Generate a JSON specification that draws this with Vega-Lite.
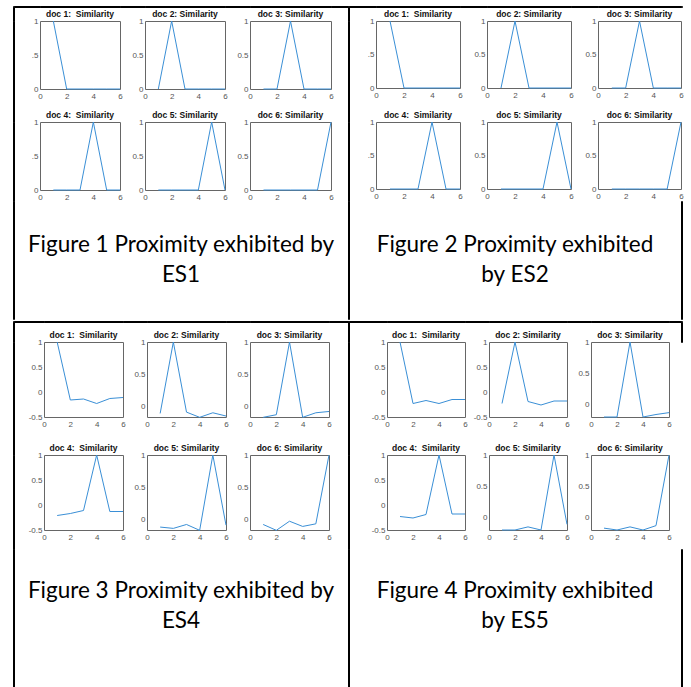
{
"$schema":"https://vega.github.io/schema/vega-lite/v6.json",
"padding":{"left":12,"top":5,"right":0,"bottom":0},
"background":"white",
"data":{"values":[{}]},
"config":{
 "view":{"stroke":null},
 "point":{"opacity":0,"size":0,"strokeWidth":0},
 "axis":{"grid":false,"domain":false,"ticks":false,"labelFontSize":8,"labelColor":"#555","labelFont":"Liberation Sans, Arial, sans-serif","labelPadding":3,"labelFlush":false,"labelOverlap":false},
 "axisY":{"labelPadding":2},
 "title":{"fontSize":8.5,"font":"Liberation Sans, Arial, sans-serif","fontWeight":"bold","offset":-1,"color":"#111","anchor":"middle"},
 "line":{"color":"#3a8fd6","strokeWidth":1,"clip":true},
 "text":{"font":"Lato","fontSize":22.5,"lineHeight":30,"lineBreak":"\n","color":"black","baseline":"middle","align":"center"}
},
"datasets":{
 "es1":[
  {"doc":1,"x":1,"y":1},{"doc":1,"x":2,"y":0},{"doc":1,"x":3,"y":0},{"doc":1,"x":4,"y":0},{"doc":1,"x":5,"y":0},{"doc":1,"x":6,"y":0},
  {"doc":2,"x":1,"y":0},{"doc":2,"x":2,"y":1},{"doc":2,"x":3,"y":0},{"doc":2,"x":4,"y":0},{"doc":2,"x":5,"y":0},{"doc":2,"x":6,"y":0},
  {"doc":3,"x":1,"y":0},{"doc":3,"x":2,"y":0},{"doc":3,"x":3,"y":1},{"doc":3,"x":4,"y":0},{"doc":3,"x":5,"y":0},{"doc":3,"x":6,"y":0},
  {"doc":4,"x":1,"y":0},{"doc":4,"x":2,"y":0},{"doc":4,"x":3,"y":0},{"doc":4,"x":4,"y":1},{"doc":4,"x":5,"y":0},{"doc":4,"x":6,"y":0},
  {"doc":5,"x":1,"y":0},{"doc":5,"x":2,"y":0},{"doc":5,"x":3,"y":0},{"doc":5,"x":4,"y":0},{"doc":5,"x":5,"y":1},{"doc":5,"x":6,"y":0},
  {"doc":6,"x":1,"y":0},{"doc":6,"x":2,"y":0},{"doc":6,"x":3,"y":0},{"doc":6,"x":4,"y":0},{"doc":6,"x":5,"y":0},{"doc":6,"x":6,"y":1}
 ],
 "es2":[
  {"doc":1,"x":1,"y":1},{"doc":1,"x":2,"y":0},{"doc":1,"x":3,"y":0},{"doc":1,"x":4,"y":0},{"doc":1,"x":5,"y":0},{"doc":1,"x":6,"y":0},
  {"doc":2,"x":1,"y":0},{"doc":2,"x":2,"y":1},{"doc":2,"x":3,"y":0},{"doc":2,"x":4,"y":0},{"doc":2,"x":5,"y":0},{"doc":2,"x":6,"y":0},
  {"doc":3,"x":1,"y":0},{"doc":3,"x":2,"y":0},{"doc":3,"x":3,"y":1},{"doc":3,"x":4,"y":0},{"doc":3,"x":5,"y":0},{"doc":3,"x":6,"y":0},
  {"doc":4,"x":1,"y":0},{"doc":4,"x":2,"y":0},{"doc":4,"x":3,"y":0},{"doc":4,"x":4,"y":1},{"doc":4,"x":5,"y":0},{"doc":4,"x":6,"y":0},
  {"doc":5,"x":1,"y":0},{"doc":5,"x":2,"y":0},{"doc":5,"x":3,"y":0},{"doc":5,"x":4,"y":0},{"doc":5,"x":5,"y":1},{"doc":5,"x":6,"y":0},
  {"doc":6,"x":1,"y":0},{"doc":6,"x":2,"y":0},{"doc":6,"x":3,"y":0},{"doc":6,"x":4,"y":0},{"doc":6,"x":5,"y":0},{"doc":6,"x":6,"y":1}
 ],
 "es4":[
  {"doc":1,"x":1,"y":1},{"doc":1,"x":2,"y":-0.16},{"doc":1,"x":3,"y":-0.14},{"doc":1,"x":4,"y":-0.23},{"doc":1,"x":5,"y":-0.13},{"doc":1,"x":6,"y":-0.11},
  {"doc":2,"x":1,"y":-0.1},{"doc":2,"x":2,"y":1},{"doc":2,"x":3,"y":-0.08},{"doc":2,"x":4,"y":-0.16},{"doc":2,"x":5,"y":-0.09},{"doc":2,"x":6,"y":-0.14},
  {"doc":3,"x":1,"y":-0.16},{"doc":3,"x":2,"y":-0.12},{"doc":3,"x":3,"y":1},{"doc":3,"x":4,"y":-0.16},{"doc":3,"x":5,"y":-0.09},{"doc":3,"x":6,"y":-0.07},
  {"doc":4,"x":1,"y":-0.21},{"doc":4,"x":2,"y":-0.17},{"doc":4,"x":3,"y":-0.11},{"doc":4,"x":4,"y":1},{"doc":4,"x":5,"y":-0.13},{"doc":4,"x":6,"y":-0.13},
  {"doc":5,"x":1,"y":-0.11},{"doc":5,"x":2,"y":-0.13},{"doc":5,"x":3,"y":-0.07},{"doc":5,"x":4,"y":-0.16},{"doc":5,"x":5,"y":1},{"doc":5,"x":6,"y":-0.08},
  {"doc":6,"x":1,"y":-0.07},{"doc":6,"x":2,"y":-0.16},{"doc":6,"x":3,"y":-0.02},{"doc":6,"x":4,"y":-0.1},{"doc":6,"x":5,"y":-0.06},{"doc":6,"x":6,"y":1}
 ],
 "es5":[
  {"doc":1,"x":1,"y":1},{"doc":1,"x":2,"y":-0.23},{"doc":1,"x":3,"y":-0.17},{"doc":1,"x":4,"y":-0.23},{"doc":1,"x":5,"y":-0.15},{"doc":1,"x":6,"y":-0.15},
  {"doc":2,"x":1,"y":-0.23},{"doc":2,"x":2,"y":1},{"doc":2,"x":3,"y":-0.19},{"doc":2,"x":4,"y":-0.26},{"doc":2,"x":5,"y":-0.18},{"doc":2,"x":6,"y":-0.18},
  {"doc":3,"x":1,"y":-0.2},{"doc":3,"x":2,"y":-0.2},{"doc":3,"x":3,"y":1},{"doc":3,"x":4,"y":-0.2},{"doc":3,"x":5,"y":-0.16},{"doc":3,"x":6,"y":-0.13},
  {"doc":4,"x":1,"y":-0.23},{"doc":4,"x":2,"y":-0.26},{"doc":4,"x":3,"y":-0.19},{"doc":4,"x":4,"y":1},{"doc":4,"x":5,"y":-0.18},{"doc":4,"x":6,"y":-0.18},
  {"doc":5,"x":1,"y":-0.2},{"doc":5,"x":2,"y":-0.2},{"doc":5,"x":3,"y":-0.15},{"doc":5,"x":4,"y":-0.2},{"doc":5,"x":5,"y":1},{"doc":5,"x":6,"y":-0.11},
  {"doc":6,"x":1,"y":-0.17},{"doc":6,"x":2,"y":-0.2},{"doc":6,"x":3,"y":-0.15},{"doc":6,"x":4,"y":-0.2},{"doc":6,"x":5,"y":-0.13},{"doc":6,"x":6,"y":1}
 ]
},
"spacing":0,
"vconcat":[
{"columns":16,"spacing":0,"bounds":"flush","align":"each","concat":[
 {"width":1,"height":1,"mark":"point","view":{"stroke":"black"}},
 {"width":26,"height":1,"mark":"point","view":{"stroke":"black"}},
 {"width":80,"height":1,"mark":"point","view":{"stroke":"black"}},
 {"width":25,"height":1,"mark":"point","view":{"stroke":"black"}},
 {"width":80,"height":1,"mark":"point","view":{"stroke":"black"}},
 {"width":25,"height":1,"mark":"point","view":{"stroke":"black"}},
 {"width":81,"height":1,"mark":"point","view":{"stroke":"black"}},
 {"width":17,"height":1,"mark":"point","view":{"stroke":"black"}},
 {"width":1,"height":1,"mark":"point","view":{"stroke":"black"}},
 {"width":27,"height":1,"mark":"point","view":{"stroke":"black"}},
 {"width":84,"height":1,"mark":"point","view":{"stroke":"black"}},
 {"width":27,"height":1,"mark":"point","view":{"stroke":"black"}},
 {"width":84,"height":1,"mark":"point","view":{"stroke":"black"}},
 {"width":27,"height":1,"mark":"point","view":{"stroke":"black"}},
 {"width":83,"height":1,"mark":"point","view":{"stroke":"black"}},
 {"width":1,"height":1,"mark":"point","view":{"stroke":"black"}},

 {"width":1,"height":14,"mark":"point","view":{"stroke":"black"}},
 {"width":1,"height":1,"mark":"point"},
 {"width":1,"height":1,"mark":"point"},
 {"width":1,"height":1,"mark":"point"},
 {"width":1,"height":1,"mark":"point"},
 {"width":1,"height":1,"mark":"point"},
 {"width":1,"height":1,"mark":"point"},
 {"width":1,"height":1,"mark":"point"},
 {"width":1,"height":14,"mark":"point","view":{"stroke":"black"}},
 {"width":1,"height":1,"mark":"point"},
 {"width":1,"height":1,"mark":"point"},
 {"width":1,"height":1,"mark":"point"},
 {"width":1,"height":1,"mark":"point"},
 {"width":1,"height":1,"mark":"point"},
 {"width":1,"height":1,"mark":"point"},
 {"width":1,"height":1,"mark":"point"},

 {"width":1,"height":101,"mark":"point","view":{"stroke":"black"}},
 {"width":26,"height":1,"mark":"point"},
 {"width":80,"height":68,"view":{"stroke":"#666"},"title":"doc 1:\u00a0 Similarity","data":{"name":"es1"},"transform":[{"filter":"datum.doc == 1"}],"mark":"line","encoding":{"x":{"field":"x","type":"quantitative","title":null,"scale":{"domain":[0,6],"nice":false},"axis":{"values":[0,2,4,6],"format":"d"}},"y":{"field":"y","type":"quantitative","title":null,"scale":{"domain":[0,1],"nice":false},"axis":{"values":[0,0.5,1],"format":"~g","labelExpr":"datum.value == 0.5 ? '.5' : datum.label"}}}},
 {"width":25,"height":1,"mark":"point"},
 {"width":80,"height":68,"view":{"stroke":"#666"},"title":"doc 2: Similarity","data":{"name":"es1"},"transform":[{"filter":"datum.doc == 2"}],"mark":"line","encoding":{"x":{"field":"x","type":"quantitative","title":null,"scale":{"domain":[0,6],"nice":false},"axis":{"values":[0,2,4,6],"format":"d"}},"y":{"field":"y","type":"quantitative","title":null,"scale":{"domain":[0,1],"nice":false},"axis":{"values":[0,0.5,1],"format":"~g"}}}},
 {"width":25,"height":1,"mark":"point"},
 {"width":81,"height":68,"view":{"stroke":"#666"},"title":"doc 3: Similarity","data":{"name":"es1"},"transform":[{"filter":"datum.doc == 3"}],"mark":"line","encoding":{"x":{"field":"x","type":"quantitative","title":null,"scale":{"domain":[0,6],"nice":false},"axis":{"values":[0,2,4,6],"format":"d"}},"y":{"field":"y","type":"quantitative","title":null,"scale":{"domain":[0,1],"nice":false},"axis":{"values":[0,0.5,1],"format":"~g"}}}},
 {"width":17,"height":1,"mark":"point"},
 {"width":1,"height":101,"mark":"point","view":{"stroke":"black"}},
 {"width":27,"height":1,"mark":"point"},
 {"width":84,"height":67,"view":{"stroke":"#666"},"title":"doc 1:\u00a0 Similarity","data":{"name":"es2"},"transform":[{"filter":"datum.doc == 1"}],"mark":"line","encoding":{"x":{"field":"x","type":"quantitative","title":null,"scale":{"domain":[0,6],"nice":false},"axis":{"values":[0,2,4,6],"format":"d"}},"y":{"field":"y","type":"quantitative","title":null,"scale":{"domain":[0,1],"nice":false},"axis":{"values":[0,0.5,1],"format":"~g","labelExpr":"datum.value == 0.5 ? '.5' : datum.label"}}}},
 {"width":27,"height":1,"mark":"point"},
 {"width":84,"height":67,"view":{"stroke":"#666"},"title":"doc 2: Similarity","data":{"name":"es2"},"transform":[{"filter":"datum.doc == 2"}],"mark":"line","encoding":{"x":{"field":"x","type":"quantitative","title":null,"scale":{"domain":[0,6],"nice":false},"axis":{"values":[0,2,4,6],"format":"d"}},"y":{"field":"y","type":"quantitative","title":null,"scale":{"domain":[0,1],"nice":false},"axis":{"values":[0,0.5,1],"format":"~g"}}}},
 {"width":27,"height":1,"mark":"point"},
 {"width":83,"height":67,"view":{"stroke":"#666"},"title":"doc 3: Similarity","data":{"name":"es2"},"transform":[{"filter":"datum.doc == 3"}],"mark":"line","encoding":{"x":{"field":"x","type":"quantitative","title":null,"scale":{"domain":[0,6],"nice":false},"axis":{"values":[0,2,4,6],"format":"d"}},"y":{"field":"y","type":"quantitative","title":null,"scale":{"domain":[0,1],"nice":false},"axis":{"values":[0,0.5,1],"format":"~g"}}}},
 {"width":1,"height":1,"mark":"point"},

 {"width":1,"height":79,"mark":"point","view":{"stroke":"black"}},
 {"width":26,"height":1,"mark":"point"},
 {"width":80,"height":68,"view":{"stroke":"#666"},"title":"doc 4:\u00a0 Similarity","data":{"name":"es1"},"transform":[{"filter":"datum.doc == 4"}],"mark":"line","encoding":{"x":{"field":"x","type":"quantitative","title":null,"scale":{"domain":[0,6],"nice":false},"axis":{"values":[0,2,4,6],"format":"d"}},"y":{"field":"y","type":"quantitative","title":null,"scale":{"domain":[0,1],"nice":false},"axis":{"values":[0,0.5,1],"format":"~g","labelExpr":"datum.value == 0.5 ? '.5' : datum.label"}}}},
 {"width":25,"height":1,"mark":"point"},
 {"width":80,"height":68,"view":{"stroke":"#666"},"title":"doc 5: Similarity","data":{"name":"es1"},"transform":[{"filter":"datum.doc == 5"}],"mark":"line","encoding":{"x":{"field":"x","type":"quantitative","title":null,"scale":{"domain":[0,6],"nice":false},"axis":{"values":[0,2,4,6],"format":"d"}},"y":{"field":"y","type":"quantitative","title":null,"scale":{"domain":[0,1],"nice":false},"axis":{"values":[0,0.5,1],"format":"~g"}}}},
 {"width":25,"height":1,"mark":"point"},
 {"width":81,"height":68,"view":{"stroke":"#666"},"title":"doc 6: Similarity","data":{"name":"es1"},"transform":[{"filter":"datum.doc == 6"}],"mark":"line","encoding":{"x":{"field":"x","type":"quantitative","title":null,"scale":{"domain":[0,6],"nice":false},"axis":{"values":[0,2,4,6],"format":"d"}},"y":{"field":"y","type":"quantitative","title":null,"scale":{"domain":[0,1],"nice":false},"axis":{"values":[0,0.5,1],"format":"~g"}}}},
 {"width":17,"height":1,"mark":"point"},
 {"width":1,"height":79,"mark":"point","view":{"stroke":"black"}},
 {"width":27,"height":1,"mark":"point"},
 {"width":84,"height":67,"view":{"stroke":"#666"},"title":"doc 4:\u00a0 Similarity","data":{"name":"es2"},"transform":[{"filter":"datum.doc == 4"}],"mark":"line","encoding":{"x":{"field":"x","type":"quantitative","title":null,"scale":{"domain":[0,6],"nice":false},"axis":{"values":[0,2,4,6],"format":"d"}},"y":{"field":"y","type":"quantitative","title":null,"scale":{"domain":[0,1],"nice":false},"axis":{"values":[0,0.5,1],"format":"~g","labelExpr":"datum.value == 0.5 ? '.5' : datum.label"}}}},
 {"width":27,"height":1,"mark":"point"},
 {"width":84,"height":67,"view":{"stroke":"#666"},"title":"doc 5: Similarity","data":{"name":"es2"},"transform":[{"filter":"datum.doc == 5"}],"mark":"line","encoding":{"x":{"field":"x","type":"quantitative","title":null,"scale":{"domain":[0,6],"nice":false},"axis":{"values":[0,2,4,6],"format":"d"}},"y":{"field":"y","type":"quantitative","title":null,"scale":{"domain":[0,1],"nice":false},"axis":{"values":[0,0.5,1],"format":"~g"}}}},
 {"width":27,"height":1,"mark":"point"},
 {"width":83,"height":67,"view":{"stroke":"#666"},"title":"doc 6: Similarity","data":{"name":"es2"},"transform":[{"filter":"datum.doc == 6"}],"mark":"line","encoding":{"x":{"field":"x","type":"quantitative","title":null,"scale":{"domain":[0,6],"nice":false},"axis":{"values":[0,2,4,6],"format":"d"}},"y":{"field":"y","type":"quantitative","title":null,"scale":{"domain":[0,1],"nice":false},"axis":{"values":[0,0.5,1],"format":"~g"}}}},
 {"width":1,"height":1,"mark":"point"},

 {"width":1,"height":118,"mark":"point","view":{"stroke":"black"}},
 {"width":1,"height":1,"mark":"point"},
 {"width":1,"height":1,"mark":"point"},
 {"width":1,"height":1,"mark":"point"},
 {"width":72,"height":88,"data":{"values":[{"caption":"Figure 1 Proximity exhibited by\nES1"}]},"mark":"text","encoding":{"text":{"field":"caption"}}},
 {"width":1,"height":1,"mark":"point"},
 {"width":1,"height":1,"mark":"point"},
 {"width":1,"height":1,"mark":"point"},
 {"width":1,"height":118,"mark":"point","view":{"stroke":"black"}},
 {"width":1,"height":1,"mark":"point"},
 {"width":1,"height":1,"mark":"point"},
 {"width":1,"height":1,"mark":"point"},
 {"width":56,"height":88,"data":{"values":[{"caption":"Figure 2 Proximity exhibited\nby ES2"}]},"mark":"text","encoding":{"text":{"field":"caption"}}},
 {"width":1,"height":1,"mark":"point"},
 {"width":1,"height":1,"mark":"point"},
 {"width":1,"height":118,"mark":"point","view":{"stroke":"black"}}
]},
{"columns":17,"spacing":0,"bounds":"flush","align":"each","concat":[
 {"width":1,"height":1,"mark":"point","view":{"stroke":"black"}},
 {"width":30,"height":1,"mark":"point","view":{"stroke":"black"}},
 {"width":79,"height":1,"mark":"point","view":{"stroke":"black"}},
 {"width":24,"height":1,"mark":"point","view":{"stroke":"black"}},
 {"width":79,"height":1,"mark":"point","view":{"stroke":"black"}},
 {"width":24,"height":1,"mark":"point","view":{"stroke":"black"}},
 {"width":79,"height":1,"mark":"point","view":{"stroke":"black"}},
 {"width":19,"height":1,"mark":"point","view":{"stroke":"black"}},
 {"width":1,"height":1,"mark":"point","view":{"stroke":"black"}},
 {"width":38,"height":1,"mark":"point","view":{"stroke":"black"}},
 {"width":78,"height":1,"mark":"point","view":{"stroke":"black"}},
 {"width":24,"height":1,"mark":"point","view":{"stroke":"black"}},
 {"width":78,"height":1,"mark":"point","view":{"stroke":"black"}},
 {"width":24,"height":1,"mark":"point","view":{"stroke":"black"}},
 {"width":78,"height":1,"mark":"point","view":{"stroke":"black"}},
 {"width":12,"height":1,"mark":"point","view":{"stroke":"black"}},
 {"width":1,"height":1,"mark":"point","view":{"stroke":"black"}},

 {"width":1,"height":20,"mark":"point","view":{"stroke":"black"}},
 {"width":1,"height":1,"mark":"point"},
 {"width":1,"height":1,"mark":"point"},
 {"width":1,"height":1,"mark":"point"},
 {"width":1,"height":1,"mark":"point"},
 {"width":1,"height":1,"mark":"point"},
 {"width":1,"height":1,"mark":"point"},
 {"width":1,"height":1,"mark":"point"},
 {"width":1,"height":20,"mark":"point","view":{"stroke":"black"}},
 {"width":1,"height":1,"mark":"point"},
 {"width":1,"height":1,"mark":"point"},
 {"width":1,"height":1,"mark":"point"},
 {"width":1,"height":1,"mark":"point"},
 {"width":1,"height":1,"mark":"point"},
 {"width":1,"height":1,"mark":"point"},
 {"width":1,"height":1,"mark":"point"},
 {"width":1,"height":20,"mark":"point","view":{"stroke":"black"}},

 {"width":1,"height":113,"mark":"point","view":{"stroke":"black"}},
 {"width":30,"height":1,"mark":"point"},
 {"width":79,"height":75,"view":{"stroke":"#666"},"title":"doc 1:\u00a0 Similarity","data":{"name":"es4"},"transform":[{"filter":"datum.doc == 1"}],"mark":"line","encoding":{"x":{"field":"x","type":"quantitative","title":null,"scale":{"domain":[0,6],"nice":false},"axis":{"values":[0,2,4,6],"format":"d"}},"y":{"field":"y","type":"quantitative","title":null,"scale":{"domain":[-0.5,1],"nice":false},"axis":{"values":[-0.5,0,0.5,1],"format":"~g","labelExpr":"replace(datum.label, '\u2212', '-')"}}}},
 {"width":24,"height":1,"mark":"point"},
 {"width":79,"height":75,"view":{"stroke":"#666"},"title":"doc 2: Similarity","data":{"name":"es4"},"transform":[{"filter":"datum.doc == 2"}],"mark":"line","encoding":{"x":{"field":"x","type":"quantitative","title":null,"scale":{"domain":[0,6],"nice":false},"axis":{"values":[0,2,4,6],"format":"d"}},"y":{"field":"y","type":"quantitative","title":null,"scale":{"domain":[-0.155,1],"nice":false},"axis":{"values":[0,0.5,1],"format":"~g"}}}},
 {"width":24,"height":1,"mark":"point"},
 {"width":79,"height":75,"view":{"stroke":"#666"},"title":"doc 3: Similarity","data":{"name":"es4"},"transform":[{"filter":"datum.doc == 3"}],"mark":"line","encoding":{"x":{"field":"x","type":"quantitative","title":null,"scale":{"domain":[0,6],"nice":false},"axis":{"values":[0,2,4,6],"format":"d"}},"y":{"field":"y","type":"quantitative","title":null,"scale":{"domain":[-0.155,1],"nice":false},"axis":{"values":[0,0.5,1],"format":"~g"}}}},
 {"width":19,"height":1,"mark":"point"},
 {"width":1,"height":113,"mark":"point","view":{"stroke":"black"}},
 {"width":38,"height":1,"mark":"point"},
 {"width":78,"height":75,"view":{"stroke":"#666"},"title":"doc 1:\u00a0 Similarity","data":{"name":"es5"},"transform":[{"filter":"datum.doc == 1"}],"mark":"line","encoding":{"x":{"field":"x","type":"quantitative","title":null,"scale":{"domain":[0,6],"nice":false},"axis":{"values":[0,2,4,6],"format":"d"}},"y":{"field":"y","type":"quantitative","title":null,"scale":{"domain":[-0.5,1],"nice":false},"axis":{"values":[-0.5,0,0.5,1],"format":"~g","labelExpr":"replace(datum.label, '\u2212', '-')"}}}},
 {"width":24,"height":1,"mark":"point"},
 {"width":78,"height":75,"view":{"stroke":"#666"},"title":"doc 2: Similarity","data":{"name":"es5"},"transform":[{"filter":"datum.doc == 2"}],"mark":"line","encoding":{"x":{"field":"x","type":"quantitative","title":null,"scale":{"domain":[0,6],"nice":false},"axis":{"values":[0,2,4,6],"format":"d"}},"y":{"field":"y","type":"quantitative","title":null,"scale":{"domain":[-0.5,1],"nice":false},"axis":{"values":[-0.5,0,0.5,1],"format":"~g","labelExpr":"replace(datum.label, '\u2212', '-')"}}}},
 {"width":24,"height":1,"mark":"point"},
 {"width":78,"height":75,"view":{"stroke":"#666"},"title":"doc 3: Similarity","data":{"name":"es5"},"transform":[{"filter":"datum.doc == 3"}],"mark":"line","encoding":{"x":{"field":"x","type":"quantitative","title":null,"scale":{"domain":[0,6],"nice":false},"axis":{"values":[0,2,4,6],"format":"d"}},"y":{"field":"y","type":"quantitative","title":null,"scale":{"domain":[-0.2,1],"nice":false},"axis":{"values":[0,0.5,1],"format":"~g"}}}},
 {"width":12,"height":1,"mark":"point"},
 {"width":1,"height":1,"mark":"point"},

 {"width":1,"height":94,"mark":"point","view":{"stroke":"black"}},
 {"width":30,"height":1,"mark":"point"},
 {"width":79,"height":75,"view":{"stroke":"#666"},"title":"doc 4:\u00a0 Similarity","data":{"name":"es4"},"transform":[{"filter":"datum.doc == 4"}],"mark":"line","encoding":{"x":{"field":"x","type":"quantitative","title":null,"scale":{"domain":[0,6],"nice":false},"axis":{"values":[0,2,4,6],"format":"d"}},"y":{"field":"y","type":"quantitative","title":null,"scale":{"domain":[-0.5,1],"nice":false},"axis":{"values":[-0.5,0,0.5,1],"format":"~g","labelExpr":"replace(datum.label, '\u2212', '-')"}}}},
 {"width":24,"height":1,"mark":"point"},
 {"width":79,"height":75,"view":{"stroke":"#666"},"title":"doc 5: Similarity","data":{"name":"es4"},"transform":[{"filter":"datum.doc == 5"}],"mark":"line","encoding":{"x":{"field":"x","type":"quantitative","title":null,"scale":{"domain":[0,6],"nice":false},"axis":{"values":[0,2,4,6],"format":"d"}},"y":{"field":"y","type":"quantitative","title":null,"scale":{"domain":[-0.155,1],"nice":false},"axis":{"values":[0,0.5,1],"format":"~g"}}}},
 {"width":24,"height":1,"mark":"point"},
 {"width":79,"height":75,"view":{"stroke":"#666"},"title":"doc 6: Similarity","data":{"name":"es4"},"transform":[{"filter":"datum.doc == 6"}],"mark":"line","encoding":{"x":{"field":"x","type":"quantitative","title":null,"scale":{"domain":[0,6],"nice":false},"axis":{"values":[0,2,4,6],"format":"d"}},"y":{"field":"y","type":"quantitative","title":null,"scale":{"domain":[-0.155,1],"nice":false},"axis":{"values":[0,0.5,1],"format":"~g"}}}},
 {"width":19,"height":1,"mark":"point"},
 {"width":1,"height":94,"mark":"point","view":{"stroke":"black"}},
 {"width":38,"height":1,"mark":"point"},
 {"width":78,"height":75,"view":{"stroke":"#666"},"title":"doc 4:\u00a0 Similarity","data":{"name":"es5"},"transform":[{"filter":"datum.doc == 4"}],"mark":"line","encoding":{"x":{"field":"x","type":"quantitative","title":null,"scale":{"domain":[0,6],"nice":false},"axis":{"values":[0,2,4,6],"format":"d"}},"y":{"field":"y","type":"quantitative","title":null,"scale":{"domain":[-0.5,1],"nice":false},"axis":{"values":[-0.5,0,0.5,1],"format":"~g","labelExpr":"replace(datum.label, '\u2212', '-')"}}}},
 {"width":24,"height":1,"mark":"point"},
 {"width":78,"height":75,"view":{"stroke":"#666"},"title":"doc 5: Similarity","data":{"name":"es5"},"transform":[{"filter":"datum.doc == 5"}],"mark":"line","encoding":{"x":{"field":"x","type":"quantitative","title":null,"scale":{"domain":[0,6],"nice":false},"axis":{"values":[0,2,4,6],"format":"d"}},"y":{"field":"y","type":"quantitative","title":null,"scale":{"domain":[-0.2,1],"nice":false},"axis":{"values":[0,0.5,1],"format":"~g"}}}},
 {"width":24,"height":1,"mark":"point"},
 {"width":78,"height":75,"view":{"stroke":"#666"},"title":"doc 6: Similarity","data":{"name":"es5"},"transform":[{"filter":"datum.doc == 6"}],"mark":"line","encoding":{"x":{"field":"x","type":"quantitative","title":null,"scale":{"domain":[0,6],"nice":false},"axis":{"values":[0,2,4,6],"format":"d"}},"y":{"field":"y","type":"quantitative","title":null,"scale":{"domain":[-0.2,1],"nice":false},"axis":{"values":[0,0.5,1],"format":"~g"}}}},
 {"width":12,"height":1,"mark":"point"},
 {"width":1,"height":1,"mark":"point"},

 {"width":1,"height":139,"mark":"point","view":{"stroke":"black"}},
 {"width":1,"height":1,"mark":"point"},
 {"width":1,"height":1,"mark":"point"},
 {"width":1,"height":1,"mark":"point"},
 {"width":68,"height":84,"data":{"values":[{"caption":"Figure 3 Proximity exhibited by\nES4"}]},"mark":"text","encoding":{"text":{"field":"caption"}}},
 {"width":1,"height":1,"mark":"point"},
 {"width":1,"height":1,"mark":"point"},
 {"width":1,"height":1,"mark":"point"},
 {"width":1,"height":139,"mark":"point","view":{"stroke":"black"}},
 {"width":1,"height":1,"mark":"point"},
 {"width":1,"height":1,"mark":"point"},
 {"width":1,"height":1,"mark":"point"},
 {"width":52,"height":84,"data":{"values":[{"caption":"Figure 4 Proximity exhibited\nby ES5"}]},"mark":"text","encoding":{"text":{"field":"caption"}}},
 {"width":1,"height":1,"mark":"point"},
 {"width":1,"height":1,"mark":"point"},
 {"width":1,"height":1,"mark":"point"},
 {"width":1,"height":139,"mark":"point","view":{"stroke":"black"}}
]}
]
}
